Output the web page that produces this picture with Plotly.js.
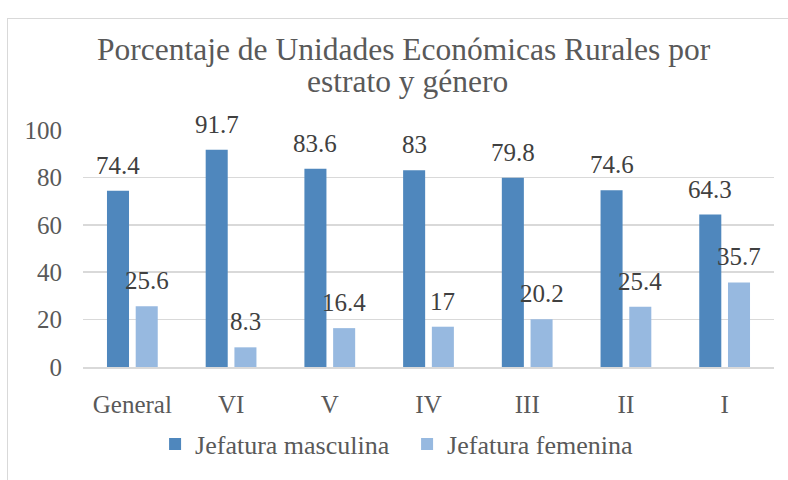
<!DOCTYPE html>
<html>
<head>
<meta charset="utf-8">
<script src="https://cdn.plot.ly/plotly-3.0.1.min.js"></script>
<style>
  html, body { margin: 0; padding: 0; background: #ffffff; }
  #frame { position: absolute; left: 7px; top: 18px; width: 800px; height: 480px; border: 1.5px solid #d9d9d9; box-sizing: border-box; }
  #chart { position: absolute; left: 0; top: 0; width: 788px; height: 480px; }
</style>
</head>
<body>
<div id="frame"></div>
<div id="chart"></div>
<script>
const categories = ["General", "VI", "V", "IV", "III", "II", "I"];
const masculina = [74.4, 91.7, 83.6, 83, 79.8, 74.6, 64.3];
const femenina = [25.6, 8.3, 16.4, 17, 20.2, 25.4, 35.7];
const seriesNames = ["Jefatura masculina", "Jefatura femenina"];
const yTicks = [0, 20, 40, 60, 80, 100];
const titleLines = ["Porcentaje de Unidades Económicas Rurales por", "estrato y género"];

const FONT = "Liberation Serif";
const labelFont = { family: FONT, size: 25, color: "#404040" };
const titleFont = { family: FONT, size: 31.5, color: "#595959" };

const traces = [
  { type: "bar", name: seriesNames[0], x: categories, y: masculina,
    marker: { color: "#4F87BD" }, hoverinfo: "skip" },
  { type: "bar", name: seriesNames[1], x: categories, y: femenina,
    marker: { color: "#97B9E0" }, hoverinfo: "skip" }
];

// data labels placed at each bar's value through the axis scales
const annotations = [];
categories.forEach((c, i) => {
  annotations.push({ x: c, y: masculina[i], xref: "x", yref: "y", text: String(masculina[i]),
    showarrow: false, xanchor: "center", yanchor: "bottom", xshift: -14.3, yshift: 10, font: labelFont });
  annotations.push({ x: c, y: femenina[i], xref: "x", yref: "y", text: String(femenina[i]),
    showarrow: false, xanchor: "center", yanchor: "bottom", xshift: 14.3, yshift: 10, font: labelFont });
});
// two-line chart title
annotations.push({ x: 0.465, y: 1.3387, xref: "paper", yref: "paper", text: titleLines[0],
  showarrow: false, xanchor: "center", yanchor: "middle", font: titleFont });
annotations.push({ x: 0.4696, y: 1.2041, xref: "paper", yref: "paper", text: titleLines[1],
  showarrow: false, xanchor: "center", yanchor: "middle", font: titleFont });

const layout = {
  width: 788, height: 480,
  paper_bgcolor: "rgba(0,0,0,0)", plot_bgcolor: "rgba(0,0,0,0)",
  margin: { l: 83, r: 14, t: 130, b: 107 },
  font: { family: FONT, color: "#595959" },
  barmode: "group", bargap: 0.418, bargroupgap: 0.233,
  xaxis: { type: "category", tickfont: { family: FONT, size: 25, color: "#595959" },
           showline: true, linecolor: "#d9d9d9", linewidth: 1.5, ticks: "",
           ticklabelstandoff: 14, showgrid: false, automargin: false },
  yaxis: { range: [0, 100], tickvals: yTicks, ticktext: yTicks.map(String),
           tickfont: { family: FONT, size: 25, color: "#595959" },
           showgrid: true, gridcolor: "#d9d9d9", gridwidth: 1.5, automargin: false,
           zeroline: false, showline: false, ticks: "", ticklabelstandoff: 20 },
  annotations: annotations,
  showlegend: true,
  legend: { orientation: "h", x: 0.469, xanchor: "center", y: -0.325, yanchor: "middle",
            entrywidth: 207, entrywidthmode: "pixels",
            font: { family: FONT, size: 26, color: "#595959" }, traceorder: "normal" }
};

Plotly.newPlot("chart", traces, layout, { displayModeBar: false, staticPlot: true });
</script>
</body>
</html>
